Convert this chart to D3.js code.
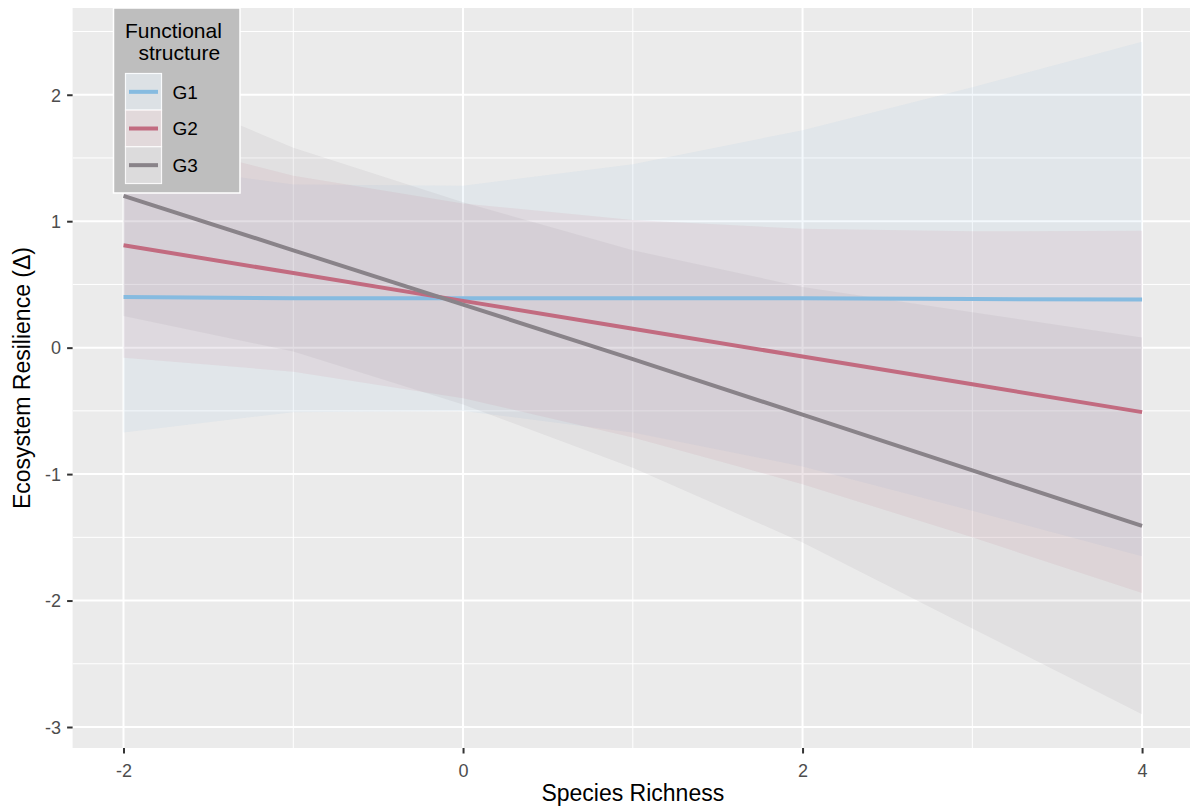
<!DOCTYPE html>
<html>
<head>
<meta charset="utf-8">
<script src="https://cdn.jsdelivr.net/npm/d3@7"></script>
<style>
  html, body { margin: 0; padding: 0; background: #ffffff; }
  svg { display: block; font-family: "Liberation Sans", Arial, Helvetica, sans-serif; }
</style>
</head>
<body>
<svg id="chart" width="1190" height="807"></svg>
<script>
// Predicted ecosystem resilience with 95% bands, by functional structure group
const richness = [-2, -1, 0, 1, 2, 3, 4];
const groupNames = ["G1", "G2", "G3"];
const groupColors = ["#86bbe0", "#c26b80", "#898389"];

const g1Fit   = [0.40, 0.39, 0.39, 0.39, 0.39, 0.385, 0.38];
const g1Lower = [-0.67, -0.51, -0.50, -0.67, -0.94, -1.29, -1.65];
const g1Upper = [1.47, 1.29, 1.28, 1.45, 1.72, 2.06, 2.42];

const g2Fit   = [0.81, 0.59, 0.37, 0.15, -0.07, -0.29, -0.51];
const g2Lower = [-0.08, -0.19, -0.40, -0.71, -1.08, -1.50, -1.94];
const g2Upper = [1.70, 1.36, 1.14, 1.01, 0.94, 0.92, 0.925];

const g3Fit   = [1.20, 0.77, 0.34, -0.09, -0.53, -0.97, -1.41];
const g3Lower = [0.25, -0.03, -0.45, -0.95, -1.54, -2.22, -2.90];
const g3Upper = [2.15, 1.58, 1.15, 0.77, 0.48, 0.28, 0.08];

const xTicks = [-2, 0, 2, 4];
const xMinor = [-1, 1, 3];
const yTicks = [-3, -2, -1, 0, 1, 2];
const yMinor = [-2.5, -1.5, -0.5, 0.5, 1.5, 2.5];

const xTitle = "Species Richness";
const yTitle = "Ecosystem Resilience (\u0394)";
const legendTitle = ["Functional", "structure"];

const fits = [g1Fit, g2Fit, g3Fit];
const lowers = [g1Lower, g2Lower, g3Lower];
const uppers = [g1Upper, g2Upper, g3Upper];

const series = groupNames.map((name, i) => ({
  name,
  color: groupColors[i],
  points: richness.map((x, j) => ({ x, fit: fits[i][j], lo: lowers[i][j], hi: uppers[i][j] }))
}));

const svg = d3.select("#chart");
const panel = { left: 72.6, top: 8, right: 1193, bottom: 748 };

// ggplot-style 5% expansion on continuous scales
const xExt = d3.extent(richness);
const xPad = (xExt[1] - xExt[0]) * 0.05;
const allY = [].concat(...lowers, ...uppers, ...fits);
const yExt = d3.extent(allY);
const yPad = (yExt[1] - yExt[0]) * 0.05;

const x = d3.scaleLinear().domain([xExt[0] - xPad, xExt[1] + xPad]).range([panel.left, panel.right]);
const y = d3.scaleLinear().domain([yExt[0] - yPad, yExt[1] + yPad]).range([panel.bottom, panel.top]);

svg.append("defs").append("clipPath").attr("id", "panelClip")
  .append("rect")
  .attr("x", panel.left).attr("y", panel.top)
  .attr("width", panel.right - panel.left).attr("height", panel.bottom - panel.top);

// panel background
svg.append("rect")
  .attr("x", panel.left).attr("y", panel.top)
  .attr("width", panel.right - panel.left).attr("height", panel.bottom - panel.top)
  .attr("fill", "#ebebeb");

const grid = svg.append("g").attr("clip-path", "url(#panelClip)");
grid.selectAll(".ymin").data(yMinor).join("line")
  .attr("x1", panel.left).attr("x2", panel.right)
  .attr("y1", d => y(d)).attr("y2", d => y(d))
  .attr("stroke", "#ffffff").attr("stroke-width", 1);
grid.selectAll(".xmin").data(xMinor).join("line")
  .attr("y1", panel.top).attr("y2", panel.bottom)
  .attr("x1", d => x(d)).attr("x2", d => x(d))
  .attr("stroke", "#ffffff").attr("stroke-width", 1);
grid.selectAll(".ymaj").data(yTicks).join("line")
  .attr("x1", panel.left).attr("x2", panel.right)
  .attr("y1", d => y(d)).attr("y2", d => y(d))
  .attr("stroke", "#ffffff").attr("stroke-width", 2);
grid.selectAll(".xmaj").data(xTicks).join("line")
  .attr("y1", panel.top).attr("y2", panel.bottom)
  .attr("x1", d => x(d)).attr("x2", d => x(d))
  .attr("stroke", "#ffffff").attr("stroke-width", 2);

const plot = svg.append("g").attr("clip-path", "url(#panelClip)");

const area = d3.area().x(d => x(d.x)).y0(d => y(d.lo)).y1(d => y(d.hi));
const line = d3.line().x(d => x(d.x)).y(d => y(d.fit));

plot.selectAll(".band").data(series).join("path")
  .attr("d", d => area(d.points))
  .attr("fill", d => d.color)
  .attr("fill-opacity", 0.1);

plot.selectAll(".fit").data(series).join("path")
  .attr("d", d => line(d.points))
  .attr("fill", "none")
  .attr("stroke", d => d.color)
  .attr("stroke-width", 4)
  .attr("stroke-linejoin", "round");

// axes
const xAxis = d3.axisBottom(x).tickValues(xTicks).tickSize(5.5).tickPadding(6).tickFormat(d3.format("d"));
const yAxis = d3.axisLeft(y).tickValues(yTicks).tickSize(5.5).tickPadding(6).tickFormat(d3.format("d"));

const gx = svg.append("g").attr("transform", `translate(0,${panel.bottom})`).call(xAxis);
const gy = svg.append("g").attr("transform", `translate(${panel.left},0)`).call(yAxis);
[gx, gy].forEach(g => {
  g.select(".domain").remove();
  g.selectAll(".tick line").attr("stroke", "#333333").attr("stroke-width", 2);
  g.selectAll(".tick text").attr("fill", "#4d4d4d").attr("font-size", 18)
    .attr("font-family", "Liberation Sans, Arial, sans-serif");
});
gx.selectAll(".tick text").attr("dy", "0.95em");
gy.selectAll(".tick text").attr("dy", "0.35em").text(d => d < 0 ? "-" + Math.abs(d) : d);
gx.selectAll(".tick text").text(d => d < 0 ? "-" + Math.abs(d) : d);

svg.append("text")
  .attr("x", (panel.left + panel.right) / 2).attr("y", 801)
  .attr("text-anchor", "middle").attr("font-size", 23).attr("fill", "#000")
  .text(xTitle);

svg.append("text")
  .attr("transform", `translate(30,${(panel.top + panel.bottom) / 2}) rotate(-90)`)
  .attr("text-anchor", "middle").attr("font-size", 23).attr("fill", "#000")
  .text(yTitle);

// legend
const legend = svg.append("g");
legend.append("rect")
  .attr("x", 113.5).attr("y", 8).attr("width", 126.5).attr("height", 185)
  .attr("fill", "#bebebe").attr("stroke", "#ffffff").attr("stroke-width", 1.5);
legend.append("text").attr("x", 125).attr("y", 38).attr("font-size", 21).attr("fill", "#000").text(legendTitle[0]);
legend.append("text").attr("x", 138.5).attr("y", 60).attr("font-size", 21).attr("fill", "#000").text(legendTitle[1]);

const keyY = d3.scaleBand().domain(groupNames).range([73.5, 183.5]);
const keys = legend.selectAll(".key").data(series).join("g")
  .attr("transform", d => `translate(125.5,${keyY(d.name)})`);
keys.append("rect")
  .attr("width", 36).attr("height", keyY.bandwidth())
  .attr("fill", "#e6e6e6").attr("stroke", "#ffffff").attr("stroke-width", 1.2);
keys.append("rect")
  .attr("width", 36).attr("height", keyY.bandwidth())
  .attr("fill", d => d.color).attr("fill-opacity", 0.1);
keys.append("line")
  .attr("x1", 3.5).attr("x2", 32.5)
  .attr("y1", keyY.bandwidth() / 2).attr("y2", keyY.bandwidth() / 2)
  .attr("stroke", d => d.color).attr("stroke-width", 4);
keys.append("text")
  .attr("x", 47).attr("y", keyY.bandwidth() / 2).attr("dy", "0.36em")
  .attr("font-size", 19).attr("fill", "#000")
  .text(d => d.name);
</script>
</body>
</html>
